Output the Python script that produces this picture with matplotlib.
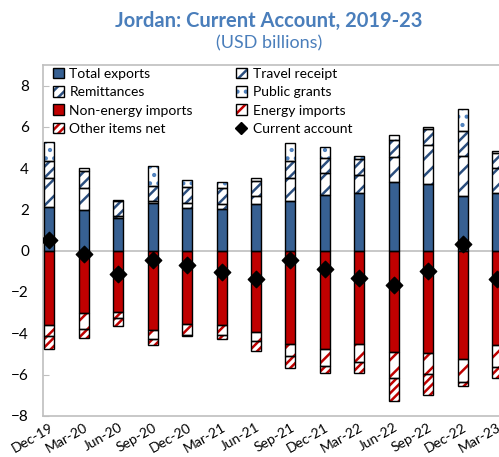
import numpy as np
import matplotlib
matplotlib.use("Agg")
import matplotlib.pyplot as plt
from matplotlib.patches import Patch
from matplotlib.lines import Line2D

plt.rcParams['font.family'] = ['Lato', 'DejaVu Sans']
plt.rcParams['hatch.linewidth'] = 1.8

# Data (USD billions)
quarters = ['Dec-19', 'Mar-20', 'Jun-20', 'Sep-20', 'Dec-20', 'Mar-21', 'Jun-21',
            'Sep-21', 'Dec-21', 'Mar-22', 'Jun-22', 'Sep-22', 'Dec-22', 'Mar-23']
total_exports = [2.10, 1.97, 1.60, 2.31, 2.08, 2.02, 2.25, 2.39, 2.71, 2.81, 3.32, 3.22, 2.67, 2.78]
travel_receipt = [1.41, 1.07, 0.06, 0.10, 0.23, 0.24, 0.42, 1.12, 1.04, 0.88, 1.24, 1.88, 1.90, 1.22]
remittances = [0.83, 0.81, 0.73, 0.74, 0.76, 0.78, 0.73, 0.83, 0.75, 0.76, 0.78, 0.78, 1.22, 0.74]
public_grants = [0.92, 0.16, 0.08, 0.94, 0.34, 0.28, 0.11, 0.87, 0.52, 0.16, 0.28, 0.11, 1.05, 0.08]
non_energy_imports = [-3.61, -3.01, -2.96, -3.82, -3.57, -3.62, -3.93, -4.52, -4.76, -4.50, -4.92, -4.94, -5.24, -4.58]
energy_imports = [-0.53, -0.76, -0.29, -0.48, -0.53, -0.47, -0.46, -0.60, -0.81, -0.88, -1.26, -1.04, -1.13, -1.05]
other_items = [-0.60, -0.45, -0.39, -0.25, -0.02, -0.20, -0.45, -0.56, -0.36, -0.55, -1.12, -1.00, -0.16, -0.52]
current_account = [0.51, -0.17, -1.14, -0.45, -0.71, -1.03, -1.35, -0.45, -0.87, -1.30, -1.68, -0.98, 0.32, -1.35]

blue = '#376092'
red = '#C00000'
navy = '#2B4E7E'
dot_blue = '#4F81BD'
grey = '#BFBFBF'
title_col = '#4A7EBB'

fig = plt.figure(figsize=(4.99, 4.57), dpi=100)
ax = fig.add_axes([0.086, 0.09, 0.914, 0.768])

x = np.arange(len(quarters))
w = 0.29


def stack(values, bottom, face, hatch=None, hcol=None):
    if hatch:
        ax.bar(x, values, w, bottom=bottom, color=face, edgecolor=hcol, hatch=hatch,
               linewidth=0, zorder=2)
    else:
        ax.bar(x, values, w, bottom=bottom, color=face, linewidth=0, zorder=2)
    ax.bar(x, values, w, bottom=bottom, fill=False, edgecolor='black', linewidth=1.0, zorder=3)


pos = np.zeros(len(x))
stack(total_exports, pos, blue)
pos += total_exports
stack(travel_receipt, pos, 'white', '//', navy)
pos += travel_receipt
stack(remittances, pos, 'white', '///', navy)
pos += remittances
stack(public_grants, pos, 'white', '..', dot_blue)

neg = np.zeros(len(x))
stack(non_energy_imports, neg, red)
neg += non_energy_imports
stack(energy_imports, neg, 'white', '//', red)
neg += energy_imports
stack(other_items, neg, 'white', '////', red)

ax.scatter(x, current_account, marker='D', s=70, color='black', zorder=4)

ax.axhline(0, color=grey, linewidth=1.2, zorder=1)
ax.set_ylim(-8, 9)
ax.set_yticks(np.arange(-8, 9, 2))
ax.set_xlim(-0.19, 13.06)
ax.set_xticks(x)
ax.set_xticklabels(quarters, rotation=30, ha='right', rotation_mode='anchor', fontsize=10)
ax.tick_params(axis='y', direction='in', length=4, color=grey, labelsize=11, pad=10)
ax.tick_params(axis='x', length=0, pad=4)
for s in ['left', 'bottom', 'top']:
    ax.spines[s].set_color(grey)
    ax.spines[s].set_linewidth(1.2)
ax.spines['right'].set_visible(False)


def box(face, hatch=None, hcol=None):
    if hatch:
        return (Patch(facecolor=face, edgecolor=hcol, hatch=hatch, linewidth=0),
                Patch(fill=False, edgecolor='black', linewidth=1.0))
    return (Patch(facecolor=face, linewidth=0), Patch(fill=False, edgecolor='black', linewidth=1.0))


handles = [box(blue), box('white', '//', navy), box('white', '///', navy), box('white', '..', dot_blue),
           box(red), box('white', '//', red), box('white', '////', red),
           Line2D([], [], marker='D', color='black', linestyle='none', markersize=6)]
labels = ['Total exports', 'Travel receipt', 'Remittances', 'Public grants',
          'Non-energy imports', 'Energy imports', 'Other items net', 'Current account']
# order column-wise for ncol=2
order = [0, 2, 4, 6, 1, 3, 5, 7]
ax.legend([handles[i] for i in order], [labels[i] for i in order], ncol=2, loc='upper left',
          bbox_to_anchor=(0.0, 1.02), frameon=False, fontsize=10, handlelength=0.8,
          handleheight=0.8, handletextpad=0.4, columnspacing=3.1, labelspacing=0.45,
          borderaxespad=0.3)

fig.text(0.539, 0.955, 'Jordan: Current Account, 2019-23', ha='center', va='center',
         fontsize=14.5, fontweight='bold', color=title_col)
fig.text(0.539, 0.905, '(USD billions)', ha='center', va='center', fontsize=13, color=title_col)

fig.savefig('out.png', dpi=100)
